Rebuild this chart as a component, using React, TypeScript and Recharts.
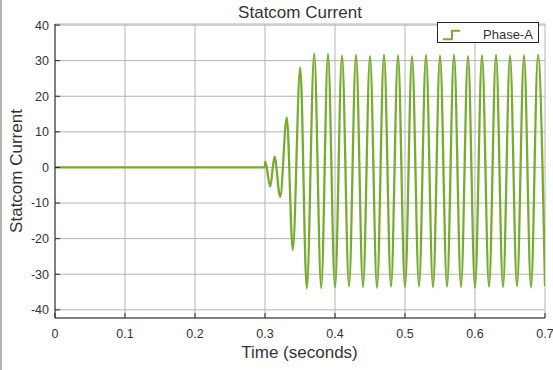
import { LineChart, Line, XAxis, YAxis, CartesianGrid, Legend } from "recharts"

const FONT = "'Liberation Sans', Arial, Helvetica, sans-serif"
const GREEN = "#77AC30"
const AXIS = "#262626"
const TEXT = "#333333"

// time stamps (s) of the points: flat, transient, then 50 Hz extremes
const timeSec = [
  0, 0.2995, 0.3005, 0.3074, 0.3136, 0.3217, 0.3311, 0.3397, 0.3503, 0.3597,
  0.3703, 0.3803, 0.39, 0.4, 0.41, 0.42, 0.43, 0.44, 0.45, 0.46,
  0.47, 0.48, 0.49, 0.5, 0.51, 0.52, 0.53, 0.54, 0.55, 0.56,
  0.57, 0.58, 0.59, 0.6, 0.61, 0.62, 0.63, 0.64, 0.65, 0.66,
  0.67, 0.68, 0.69, 0.7,
]

// Phase-A statcom current at those times
const phaseA = [
  0, 0, 1.6, -5.4, 3.0, -8.3, 14.0, -23.2, 28.1, -34.0,
  32.0, -33.9, 31.8, -33.7, 31.4, -33.4, 31.6, -33.6, 31.3, -33.8,
  31.7, -33.5, 31.5, -33.6, 31.2, -33.4, 31.6, -33.7, 31.4, -33.5,
  31.7, -33.6, 31.3, -33.8, 31.5, -33.5, 31.6, -33.6, 31.4, -33.4,
  31.5, -33.7, 31.6, -33.3,
]

const xTicks = [0, 0.1, 0.2, 0.3, 0.4, 0.5, 0.6, 0.7]
const yTicks = [-40, -30, -20, -10, 0, 10, 20, 30, 40]
const xDomain = [0, 0.7]
const yDomain = [-42.3, 40.3]

const data = timeSec.map((t, i) => ({ t, a: phaseA[i] }))

// MATLAB-style legend box with the stairs icon
function StairsLegend({ payload }: any) {
  const entry = payload?.[0]
  return (
    <svg width={102} height={21} style={{ display: "block" }}>
      <rect x={0.5} y={0.5} width={101} height={20} fill="#fff" stroke={AXIS} />
      <polyline
        points="6,17.3 15,17.3 15,8.7 23,8.7"
        fill="none"
        stroke={entry?.color ?? GREEN}
        strokeWidth={2}
      />
      <text x={46} y={17.3} fontSize={13} fill={TEXT} fontFamily={FONT}>
        {entry?.value}
      </text>
    </svg>
  )
}

export default function App() {
  const tick = { fontSize: 12.5, fill: TEXT, fontFamily: FONT }
  return (
    <div
      style={{
        position: "absolute",
        left: 0,
        top: 0,
        width: 553,
        height: 370,
        background: "#fff",
        overflow: "hidden",
      }}
    >
      <div
        style={{
          position: "absolute",
          left: 0,
          top: 0,
          width: 2,
          height: 370,
          background: "#b4b4b4",
        }}
      />
      <LineChart
        width={553}
        height={370}
        data={data}
        margin={{ top: 24, right: 8, bottom: 22, left: 5 }}
      >
        <CartesianGrid stroke="#b4b4b4" strokeWidth={1} />
        <XAxis
          dataKey="t"
          type="number"
          domain={xDomain}
          ticks={xTicks}
          allowDataOverflow
          height={30}
          tick={tick}
          tickSize={-5}
          tickMargin={16}
          tickLine={{ stroke: AXIS }}
          axisLine={{ stroke: AXIS }}
        />
        <XAxis
          xAxisId="top"
          orientation="top"
          dataKey="t"
          type="number"
          domain={xDomain}
          ticks={xTicks}
          allowDataOverflow
          height={0}
          tick={false}
          tickSize={-5}
          tickLine={{ stroke: AXIS }}
          axisLine={{ stroke: AXIS }}
        />
        <YAxis
          type="number"
          domain={yDomain}
          ticks={yTicks}
          allowDataOverflow
          width={50}
          tick={tick}
          tickSize={-5}
          tickMargin={11}
          tickLine={{ stroke: AXIS }}
          axisLine={{ stroke: AXIS }}
        />
        <YAxis
          yAxisId="right"
          orientation="right"
          type="number"
          domain={yDomain}
          ticks={yTicks}
          allowDataOverflow
          width={0}
          tick={false}
          tickSize={-5}
          tickLine={{ stroke: AXIS }}
          axisLine={{ stroke: AXIS }}
        />
        <Legend
          layout="vertical"
          align="center"
          verticalAlign="middle"
          content={<StairsLegend />}
          wrapperStyle={{ top: 22, left: 437, width: 102, height: 21 }}
        />
        <Line
          type="monotone"
          dataKey="a"
          name="Phase-A"
          stroke={GREEN}
          strokeWidth={2.3}
          strokeLinejoin="round"
          dot={false}
          activeDot={false}
          isAnimationActive={false}
        />
      </LineChart>
      <svg
        width={553}
        height={370}
        style={{ position: "absolute", left: 0, top: 0, pointerEvents: "none" }}
        fontFamily={FONT}
        fill={TEXT}
      >
        <text x={300} y={17.5} textAnchor="middle" fontSize={17}>
          Statcom Current
        </text>
        <text x={299.5} y={358} textAnchor="middle" fontSize={17}>
          Time (seconds)
        </text>
        <text
          transform="translate(21.5,171) rotate(-90)"
          textAnchor="middle"
          fontSize={17}
        >
          Statcom Current
        </text>
      </svg>
    </div>
  )
}
